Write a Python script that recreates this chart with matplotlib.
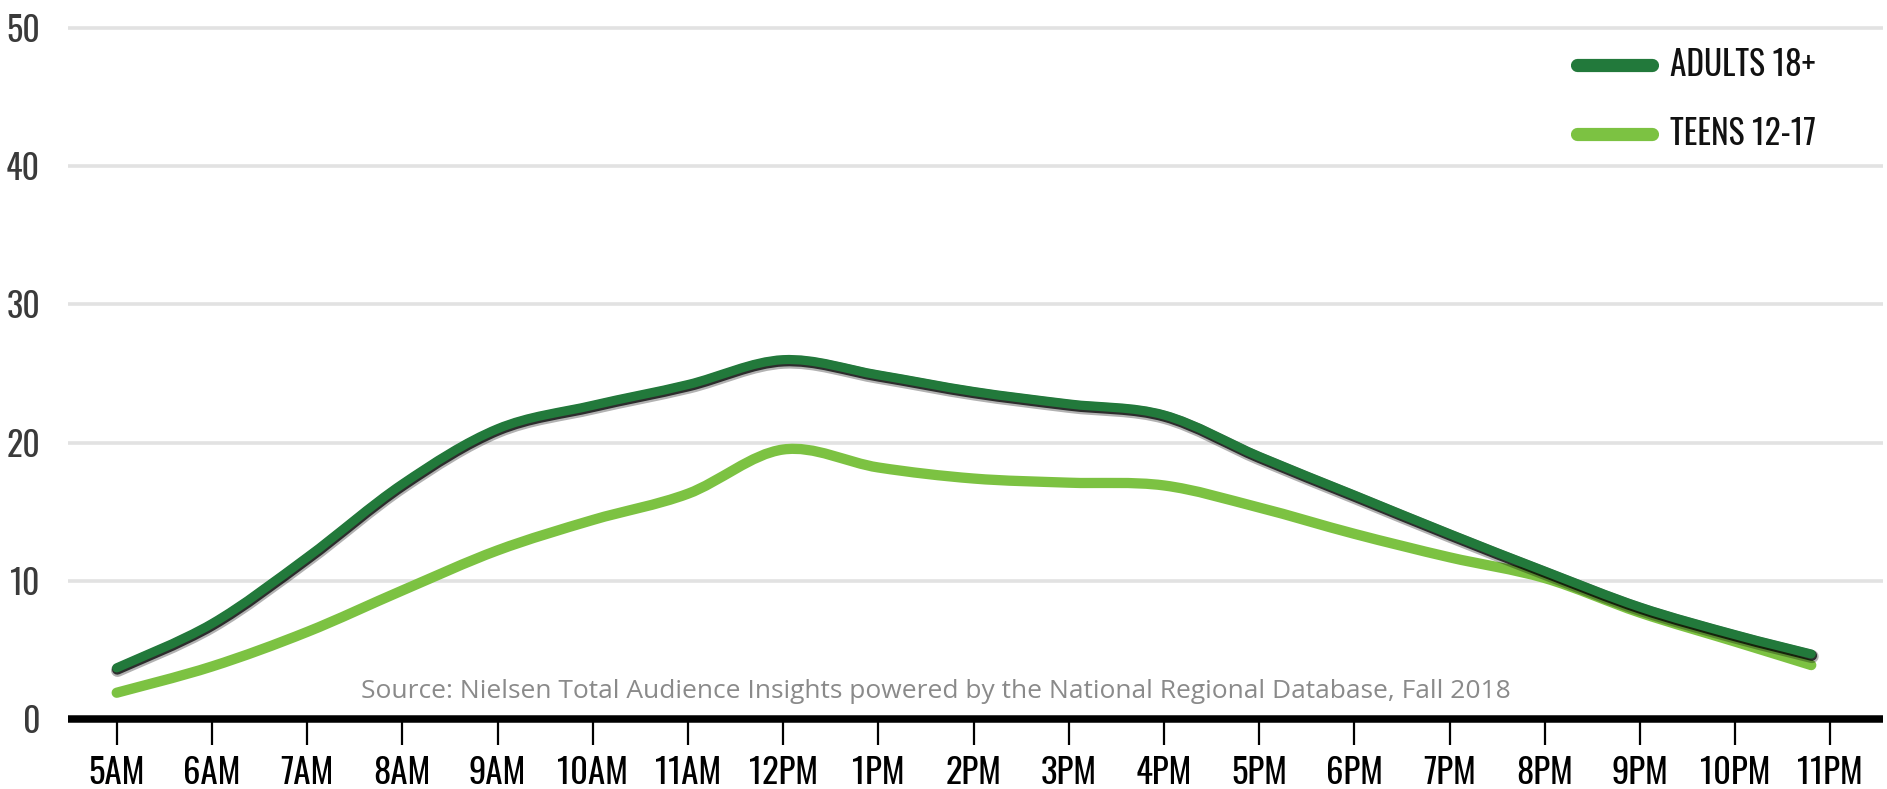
import matplotlib
matplotlib.use("Agg")
import matplotlib.pyplot as plt
import matplotlib.patheffects as pe
from matplotlib.path import Path
from matplotlib.patches import PathPatch
from matplotlib.lines import Line2D
import numpy as np

# ---- data ---------------------------------------------------------------
hour_labels = ["5AM", "6AM", "7AM", "8AM", "9AM", "10AM", "11AM", "12PM", "1PM",
               "2PM", "3PM", "4PM", "5PM", "6PM", "7PM", "8PM", "9PM", "10PM", "11PM"]
# position of each reading, in hours after 5AM (the last reading falls just before 11PM)
sample_pos = [0, 1, 2, 3, 4, 5, 6, 7, 8, 9, 10, 11, 12, 13, 14, 15, 16, 17, 17.8]
adults = [3.7, 6.9, 11.7, 17.0, 21.0, 22.7, 24.2, 26.0, 24.9, 23.7, 22.8, 22.0,
          19.0, 16.2, 13.4, 10.7, 8.1, 6.1, 4.7]
teens = [1.9, 3.8, 6.3, 9.3, 12.2, 14.4, 16.3, 19.5, 18.2, 17.4, 17.1, 16.9,
         15.3, 13.4, 11.7, 10.2, 7.7, 5.6, 3.9]
y_ticks = [0, 10, 20, 30, 40, 50]
series_names = ["ADULTS 18+", "TEENS 12-17"]
source_note = "Source: Nielsen Total Audience Insights powered by the National Regional Database, Fall 2018"

ADULT_GREEN = "#22793b"
TEEN_GREEN = "#7cc242"
COND = ["Oswald", "Bebas Neue", "Liberation Sans Narrow", "DejaVu Sans"]

W, H, DPI = 1887, 789, 100
fig = plt.figure(figsize=(W / DPI, H / DPI), dpi=DPI)

# axes placement in pixels
left_px, right_px = 68, 1883
base_px, top_px = 719, 0
x0_px, dx_px = 116.7, 95.2        # 5AM tick and hour spacing
y_px_per_unit = 13.82

ax = fig.add_axes([left_px / W, (H - base_px) / H,
                   (right_px - left_px) / W, (base_px - top_px) / H])
ax.set_xlim(-(x0_px - left_px) / dx_px, (right_px - x0_px) / dx_px)
ax.set_ylim(0, (base_px - top_px) / y_px_per_unit)


def smooth_path(xs, ys):
    """Catmull-Rom spline through the readings, expressed as cubic Bezier segments."""
    pts = np.column_stack([xs, ys]).astype(float)
    n = len(pts)
    verts = [pts[0]]
    codes = [Path.MOVETO]
    for i in range(n - 1):
        p0 = pts[i - 1] if i > 0 else pts[i]
        p1 = pts[i]
        p2 = pts[i + 1]
        p3 = pts[i + 2] if i + 2 < n else pts[i + 1]
        c1 = p1 + (p2 - p0) / 6.0
        c2 = p2 - (p3 - p1) / 6.0
        verts += [c1, c2, p2]
        codes += [Path.CURVE4] * 3
    return Path(verts, codes)


# gridlines
for v in y_ticks[1:]:
    ax.axhline(v, color="#e2e2e2", lw=2.6, zorder=1)

# teens line
teen_patch = PathPatch(smooth_path(sample_pos, teens), fill=False,
                       edgecolor=TEEN_GREEN, lw=7.4, capstyle="round",
                       joinstyle="round", zorder=3)
ax.add_patch(teen_patch)

# adults line with a soft dark shadow
adult_patch = PathPatch(smooth_path(sample_pos, adults), fill=False,
                        edgecolor=ADULT_GREEN, lw=6.6, capstyle="round",
                        joinstyle="round", zorder=4)
adult_patch.set_path_effects([
    pe.SimpleLineShadow(offset=(0.6, -1.8), shadow_color="black", alpha=0.3, linewidth=9.5),
    pe.SimpleLineShadow(offset=(0.4, -1.1), shadow_color="black", alpha=0.75, linewidth=7.6),
    pe.Normal(),
])
ax.add_patch(adult_patch)

# axes styling
for s in ["top", "right", "left"]:
    ax.spines[s].set_visible(False)
ax.spines["bottom"].set_linewidth(5.4)
ax.spines["bottom"].set_color("black")
ax.spines["bottom"].set_capstyle("butt")

ax.set_xticks(range(len(hour_labels)))
ax.set_xticklabels(hour_labels)
ax.tick_params(axis="x", direction="out", length=19, width=1.6, color="black",
               pad=8, labelsize=25, labelcolor="black")
for lab in ax.get_xticklabels():
    lab.set_family(COND)
    lab.set_weight("normal")

ax.set_yticks(y_ticks)
ax.set_yticklabels([str(v) for v in y_ticks])
ax.tick_params(axis="y", length=0, pad=20, labelsize=24.5, labelcolor="#3a3a3a")
for lab in ax.get_yticklabels():
    lab.set_family(COND)
    lab.set_weight("light")

# source note
fig.text(936 / W, 1 - 691 / H, source_note, ha="center", va="center",
         fontsize=19, color="#8a8a8a", family=["Open Sans", "DejaVu Sans"])

# legend
leg_rows = [(65, ADULT_GREEN), (134, TEEN_GREEN)]
for (ypx, col), name in zip(leg_rows, series_names):
    yf = 1 - ypx / H
    fig.add_artist(Line2D([1577 / W, 1652 / W], [yf, yf], transform=fig.transFigure,
                          color=col, lw=9.5, solid_capstyle="round"))
    fig.text(1670 / W, yf, name, ha="left", va="center", fontsize=24,
             color="#111111", family=COND)

fig.savefig("out.png", dpi=DPI, facecolor="white")
